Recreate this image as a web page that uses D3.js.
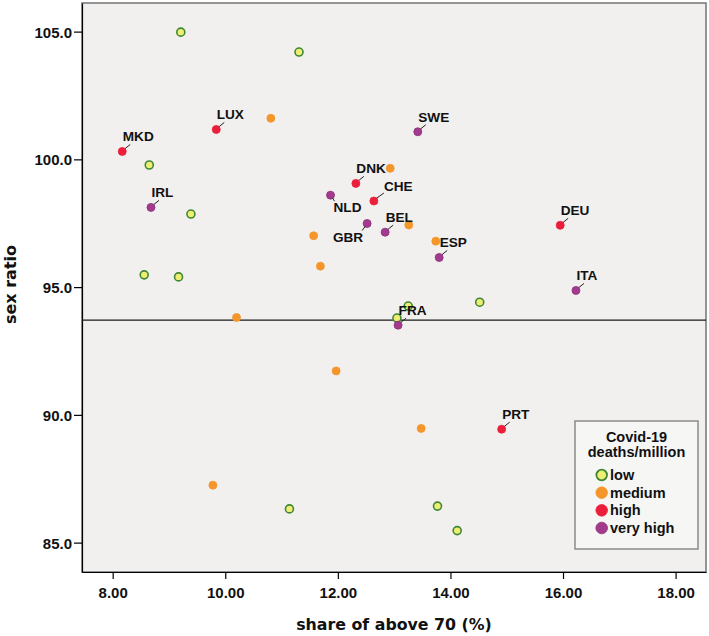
<!DOCTYPE html>
<html>
<head>
<meta charset="utf-8">
<script src="https://cdn.jsdelivr.net/npm/d3@7"></script>
<style>
  html, body { margin: 0; padding: 0; background: #ffffff; }
  svg { display: block; }
</style>
</head>
<body>
<svg id="chart" width="709" height="636"></svg>
<script>
// ---- data ----
const groups = ["low", "medium", "high", "very high"];
const shareAbove70 = [
  9.21, 11.31, 8.65, 9.39, 8.56, 9.17, 14.52, 13.05, 13.25, 13.77, 14.12, 11.14,
  10.81, 12.93, 11.57, 11.69, 13.26, 13.74, 10.20, 11.97, 13.48, 9.78,
  8.17, 9.84, 12.32, 12.64, 15.95, 14.91,
  8.68, 11.87, 13.42, 12.52, 12.84, 13.80, 16.23, 13.07
];
const sexRatio = [
  104.98, 104.20, 99.78, 97.86, 95.48, 95.40, 94.41, 93.79, 94.26, 86.43, 85.47, 86.32,
  101.61, 99.65, 97.01, 95.82, 97.43, 96.80, 93.81, 91.72, 89.47, 87.25,
  100.31, 101.17, 99.06, 98.37, 97.42, 89.44,
  98.12, 98.60, 101.08, 97.49, 97.15, 96.16, 94.87, 93.51
];
const deathGroup = [
  "low","low","low","low","low","low","low","low","low","low","low","low",
  "medium","medium","medium","medium","medium","medium","medium","medium","medium","medium",
  "high","high","high","high","high","high",
  "very high","very high","very high","very high","very high","very high","very high","very high"
];
const countryLabel = [
  "","","","","","","","","","","","",
  "","","","","","","","","","",
  "MKD","LUX","DNK","CHE","DEU","PRT",
  "IRL","NLD","SWE","GBR","BEL","ESP","ITA","FRA"
];
const referenceLine = 93.71;
const xTicks = [8, 10, 12, 14, 16, 18];
const yTicks = [85, 90, 95, 100, 105];
const xTitle = "share of above 70 (%)";
const yTitle = "sex ratio";
const legendTitle = ["Covid-19", "deaths/million"];

// label placement style (not data)
const labelPlacement = { CHE: "right", NLD: "belowRight", GBR: "belowLeft" };

// ---- styles ----
const fills = { "low": "#eeee74", "medium": "#f5962b", "high": "#ec1f3b", "very high": "#a23b8d" };
const strokes = { "low": "#3f8733", "medium": "#f5962b", "high": "#ec1f3b", "very high": "#8f2f7c" };

const svg = d3.select("#chart");
const plot = { left: 82, right: 706, top: 3, bottom: 572 };

const x = d3.scaleLinear().domain([7.455, 18.54]).range([plot.left, plot.right]);
const y = d3.scaleLinear().domain([83.85, 106.12]).range([plot.bottom, plot.top]);

// background
svg.append("rect")
  .attr("x", plot.left).attr("y", plot.top)
  .attr("width", plot.right - plot.left).attr("height", plot.bottom - plot.top)
  .attr("fill", "#f1f0ee").attr("stroke", "#7c7c7c").attr("stroke-width", 1.6);

// axes
const xAxis = d3.axisBottom(x).tickValues(xTicks).tickFormat(d3.format(".2f")).tickSizeInner(7).tickSizeOuter(0);
const yAxis = d3.axisLeft(y).tickValues(yTicks).tickFormat(d3.format(".1f")).tickSizeInner(8).tickSizeOuter(0);

const gx = svg.append("g").attr("transform", `translate(0,${plot.bottom})`).call(xAxis);
gx.select(".domain").attr("stroke", "#000").attr("stroke-width", 1.2);
gx.selectAll(".tick line").attr("stroke", "#000").attr("stroke-width", 1.2);
gx.selectAll(".tick text").attr("dy", "0").attr("y", 26)
  .style("font-family", "'Liberation Sans', Arial, sans-serif")
  .style("font-weight", "bold").style("font-size", "15px").attr("fill", "#111");

const gy = svg.append("g").attr("transform", `translate(${plot.left},0)`).call(yAxis);
gy.select(".domain").attr("stroke", "#000").attr("stroke-width", 1.2);
gy.selectAll(".tick line").attr("stroke", "#000").attr("stroke-width", 1.2);
gy.selectAll(".tick text").attr("x", -10).attr("dy", "0.36em")
  .style("font-family", "'Liberation Sans', Arial, sans-serif")
  .style("font-weight", "bold").style("font-size", "15px").attr("fill", "#111");

// titles
svg.append("text")
  .attr("x", (plot.left + plot.right) / 2).attr("y", 630)
  .attr("text-anchor", "middle")
  .style("font-family", "'DejaVu Sans', Verdana, sans-serif")
  .style("font-weight", "bold").style("font-size", "15.8px").attr("fill", "#111")
  .text(xTitle);

svg.append("text")
  .attr("transform", `translate(16,${(plot.top + plot.bottom) / 2 - 3}) rotate(-90)`)
  .attr("text-anchor", "middle")
  .style("font-family", "'DejaVu Sans', Verdana, sans-serif")
  .style("font-weight", "bold").style("font-size", "16px").attr("fill", "#111")
  .text(yTitle);

// reference line
svg.append("line")
  .attr("x1", plot.left).attr("x2", plot.right)
  .attr("y1", y(referenceLine)).attr("y2", y(referenceLine))
  .attr("stroke", "#1a1a1a").attr("stroke-width", 1.2);

// points
const points = shareAbove70.map((v, i) => ({ x: v, y: sexRatio[i], g: deathGroup[i], label: countryLabel[i] }));

svg.append("g").selectAll("circle").data(points).join("circle")
  .attr("cx", d => x(d.x)).attr("cy", d => y(d.y)).attr("r", 4)
  .attr("fill", d => fills[d.g]).attr("stroke", d => strokes[d.g])
  .attr("stroke-width", d => d.g === "low" ? 1.6 : 0.8);

// labels
const lab = svg.append("g");
points.filter(d => d.label).forEach(d => {
  const px = x(d.x), py = y(d.y);
  const mode = labelPlacement[d.label] || "above";
  let line, tx, ty, anchor = "start";
  if (mode === "above") { line = [px + 3, py - 3, px + 8, py - 7]; tx = px + 0.5; ty = py - 10; }
  else if (mode === "right") { line = [px + 3, py - 3, px + 10, py - 8]; tx = px + 10; ty = py - 10; }
  else if (mode === "belowRight") { line = [px + 2, py + 3, px + 4, py + 6]; tx = px + 3; ty = py + 17; }
  else { line = [px - 2, py + 3, px - 5, py + 7]; tx = px - 4; ty = py + 19; anchor = "end"; }
  lab.append("line")
    .attr("x1", line[0]).attr("y1", line[1]).attr("x2", line[2]).attr("y2", line[3])
    .attr("stroke", "#222").attr("stroke-width", 1);
  lab.append("text")
    .attr("x", tx).attr("y", ty).attr("text-anchor", anchor)
    .style("font-family", "'Liberation Sans', Arial, sans-serif")
    .style("font-weight", "bold").style("font-size", "13.6px").attr("fill", "#111")
    .text(d.label);
});

// legend
const lg = svg.append("g");
lg.append("rect").attr("x", 575).attr("y", 421).attr("width", 123).attr("height", 128)
  .attr("fill", "#f6f6f5").attr("stroke", "#8a8a8a").attr("stroke-width", 1.5);
legendTitle.forEach((t, i) => {
  lg.append("text").attr("x", 636.5).attr("y", 442 + i * 15).attr("text-anchor", "middle")
    .style("font-family", "'Liberation Sans', Arial, sans-serif")
    .style("font-weight", "bold").style("font-size", "14.5px").attr("fill", "#111")
    .text(t);
});
const legendY = d3.scaleLinear().domain([0, 3]).range([475, 528]);
groups.forEach((g, i) => {
  lg.append("circle").attr("cx", 601.7).attr("cy", legendY(i)).attr("r", g === "low" ? 5.3 : 5.8)
    .attr("fill", fills[g]).attr("stroke", strokes[g]).attr("stroke-width", g === "low" ? 1.8 : 0.8);
  lg.append("text").attr("x", 610).attr("y", legendY(i) + 5)
    .style("font-family", "'Liberation Sans', Arial, sans-serif")
    .style("font-weight", "bold").style("font-size", "14.5px").attr("fill", "#111")
    .text(g);
});
</script>
</body>
</html>
